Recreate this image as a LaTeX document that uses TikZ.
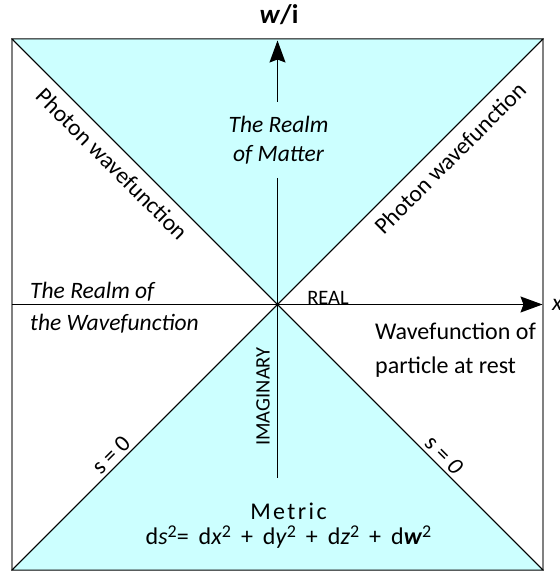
\documentclass[tikz,border=0pt]{standalone}
\usepackage{fontspec}
\setmainfont{Carlito}
\definecolor{realmcyan}{RGB}{204,255,255}
\definecolor{framegray}{RGB}{128,128,128}
\usetikzlibrary{arrows.meta}
\newcommand{\sqtwo}{\raisebox{0.32em}{\fontsize{18}{18}\selectfont 2}}

\begin{document}
\begin{tikzpicture}[
  x=1pt,y=1pt,
  lbl/.style={font=\fontsize{23.5}{29}\selectfont,inner sep=0pt,align=center},
  axis/.style={line width=1.3pt,-{Stealth[length=22pt,width=16pt,inset=3pt]}},
  cone/.style={fill=realmcyan,draw=black,line width=0.8pt},
  light/.style={line width=0.8pt}
]
  \useasboundingbox (-277.5,-266.5) rectangle (282.5,304.5);
  % corners of the frame
  \coordinate (tl) at (-265.5,265.5);
  \coordinate (tr) at (265.5,265.5);
  \coordinate (bl) at (-265.5,-265.5);
  \coordinate (br) at (265.5,-265.5);
  \coordinate (o) at (0,0);
  \draw[framegray,line width=1.5pt] (bl) rectangle (tr);
  \draw[cone] (tl) -- (tr) -- (o) -- cycle;
  \draw[cone] (bl) -- (br) -- (o) -- cycle;
  \draw[light] (tl) -- (br);
  \draw[light] (bl) -- (tr);

  % axes
  \coordinate (xstart) at (-265.5,0);
  \coordinate (xtip) at (265,0);
  \coordinate (wtip) at (0,264);
  \coordinate (wgap) at (0,202.5);
  \coordinate (wmid) at (0,126.5);
  \coordinate (wend) at (0,-173.5);
  \draw[axis] (xstart) -- (xtip);
  \draw[axis] (wgap) -- (wtip);
  \draw[line width=1.3pt] (wmid) -- (wend);

  \node[lbl,font=\fontsize{27}{29}\selectfont\bfseries] (wlab) at (1.5,289.5) {\textit{w}/i};
  \node[lbl,anchor=west] (xlab) at (274.5,0) {\textit{x}};
  \node[lbl,font=\fontsize{23.5}{29}\selectfont\itshape] (matter) at (1,164) {The Realm\\of Matter};
  \node[lbl,rotate=-45] (photonL) at (-165.5,140.5) {Photon wavefunction};
  \node[lbl,rotate=45] (photonR) at (172.5,146.5) {Photon wavefunction};
  \node[lbl,font=\fontsize{23.5}{32}\selectfont\itshape,align=left,anchor=west] (wavefn) at (-247.5,-3.5) {The Realm of\\the Wavefunction};
  \node[lbl,font=\fontsize{20.5}{22}\selectfont] (real) at (50.5,7) {REAL};
  \node[lbl,font=\fontsize{24}{34}\selectfont,align=left,anchor=west] (rest) at (97.5,-45.5) {Wavefunction of\\particle at rest};
  \node[lbl,font=\fontsize{20.5}{22}\selectfont,rotate=90] (imag) at (-14.5,-92) {IMAGINARY};
  \node[lbl,rotate=45] (sL) at (-166.5,-150.5) {s = 0};
  \node[lbl,rotate=-45] (sR) at (166.5,-150.5) {s = \textit{0}};
  \node[lbl,font=\fontsize{24}{25}\selectfont] (metric) at (11,-221.5)
    {{\addfontfeature{LetterSpace=10}Metric}\\
     \spaceskip=10pt d\textit{s}\sqtwo= d\textit{x}\sqtwo{} + d\textit{y}\sqtwo{} + d\textit{z}\sqtwo{} + d\textbf{\textit{w}}\sqtwo};
\end{tikzpicture}
\end{document}
